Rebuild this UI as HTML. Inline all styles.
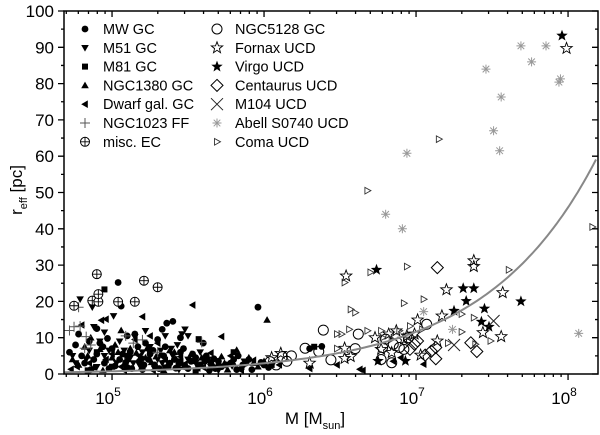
<!DOCTYPE html>
<html><head><meta charset="utf-8"><style>
html,body{margin:0;padding:0;background:#fff;}
svg{display:block;font-family:"Liberation Sans",Arial,sans-serif;}
</style></head><body>
<svg id="chart" width="600" height="435" viewBox="0 0 600 435" xmlns="http://www.w3.org/2000/svg">
<g id="marks"></g>
<g id="axes"></g>
<g id="legend"></g>
</svg>
<script>
const mwGC=[[5.04,25.2],[5.96,18.4],[5.06,18.7],[5.33,12.3],[5.36,14],[5.40,14.5],[5.15,11],[5.10,10.5],[4.85,9],[4.92,8.5],[5.00,7],[5.12,6],[5.25,5.5],[5.35,7.5],[5.45,6],[5.55,4.5],[5.62,5],[5.70,3.5],[5.80,4],[5.88,3],[6.00,2.5],[4.80,5],[4.88,4],[4.95,3],[5.05,4],[5.18,3.5],[5.28,2.5],[5.38,3],[5.48,2],[5.58,2.5],[5.68,1.5],[5.75,2.5],[6.30,7],[6.38,7.6],[5.22,8.5],[5.30,9.5],[4.78,11],[4.90,12.5],[5.45,10],[5.60,8.5],[5.83,5],[4.98,1.5],[5.10,1.8],[5.20,1.2],[5.42,1.6],[5.52,3.5],[5.65,3.2],[5.92,1.2],[4.72,6],[4.76,8],[4.82,3],[4.86,1.2],[4.90,5.5],[4.94,7.5],[4.97,9.8],[5.02,2.2],[5.07,5.5],[5.09,3.2],[5.13,1.5],[5.17,7.5],[5.21,2.5],[5.24,4],[5.27,6.5],[5.31,1.5],[5.34,5],[5.37,2],[5.41,4],[5.44,2.8],[5.47,7],[5.50,1.5],[5.53,5.5],[5.57,2],[5.61,3.5],[5.64,1],[5.67,4.2],[5.72,2],[5.78,3],[5.82,1.2],[5.86,2.5],[5.90,4],[5.98,3.2],[6.03,1.8]];
const m51GC=[[4.79,20.6],[4.87,18.4],[5.01,16],[5.22,11.9],[5.48,12.3],[5.46,11],[5.50,10.5],[4.88,13],[4.95,11.5],[5.05,9],[5.15,10.2],[5.25,7.5],[5.32,6.5],[5.40,5],[5.12,4.5],[4.85,6.5],[4.95,5],[5.03,3],[5.18,2.5],[5.30,4],[5.55,3],[5.65,2],[4.76,3],[4.90,2],[5.35,10.5],[5.43,8],[4.74,5],[4.83,4],[4.92,9],[4.98,6.5],[5.08,6.5],[5.14,3],[5.20,6],[5.28,1.5],[5.33,3],[5.39,7],[5.44,1.2],[5.50,4],[5.58,6],[5.63,4],[5.70,1],[5.79,2.2],[5.87,3.5]];
const m81GC=[[4.95,23.3],[5.57,9.6],[5.25,6.4],[6.33,7.5],[6.05,2.5],[5.10,5],[4.90,6],[5.45,3.5],[5.70,2],[5.35,1.8],[4.84,1],[5.00,2],[5.19,4.2],[5.55,1],[5.80,6]];
const n1380GC=[[6.02,14.9],[5.82,6.6],[5.93,3],[4.82,7.5],[4.92,6.8],[5.02,8],[5.12,7],[5.22,4.5],[5.32,5.5],[5.42,4.2],[5.52,5.5],[5.62,3.8],[5.72,4.8],[5.85,2],[4.78,2.5],[4.88,1.8],[5.00,4.5],[5.08,2.8],[5.16,5.8],[5.26,3.2],[5.36,2.2],[5.46,3],[5.56,1.5],[5.66,2.8],[5.76,1.2],[5.96,2],[4.86,10],[5.06,12],[5.38,6.5],[4.74,4],[4.84,5],[4.94,1],[5.04,6],[5.10,4],[5.19,1.5],[5.23,7],[5.29,4.8],[5.34,1],[5.41,6],[5.49,2.2],[5.53,3.5],[5.59,4.5],[5.69,1.8],[5.74,3],[5.80,2.8],[5.90,4.5],[6.00,3.5]];
const dwarfGC=[[5.53,19],[5.20,15.8],[5.72,10.3],[4.96,15.1],[4.93,14.8],[5.25,10.5],[4.73,1.3],[4.80,13.5],[5.15,9.5],[5.30,8.5],[6.30,1.5],[6.48,2.5],[6.65,1],[6.90,4.5],[7.05,2.7],[5.93,3.8],[5.00,5.5],[5.45,4.8],[5.60,1.8],[5.08,1],[6.10,2.5],[6.85,3.5],[6.63,1.3],[4.77,2],[4.85,3],[4.96,4],[5.06,2],[5.18,5],[5.27,1],[5.35,3.8],[5.48,2.8],[5.65,5.8],[5.78,5],[5.85,1]];
const n1023FF=[[4.78,18.4],[4.75,13],[4.79,13.2],[4.83,10.3],[5.09,10.5],[5.59,8.7],[5.20,9.4],[4.82,7.1],[4.72,12],[4.86,8],[5.14,8.5],[5.30,6]];
const miscEC=[[4.90,27.5],[5.21,25.7],[5.30,23.9],[4.75,18.8],[4.87,20.2],[4.91,19.9],[4.91,22],[5.04,19.9],[5.15,19.9]];
const n5128GC=[[6.39,12.1],[6.27,7.1],[6.36,6.2],[6.44,3.9],[6.60,7],[6.62,11],[6.12,4.8],[6.04,3.4],[6.18,5],[6.78,7.3],[6.85,8.2],[6.89,7.3],[6.84,3.1],[7.07,13.7],[6.77,4],[6.80,9.6],[6.95,10],[6.92,6.8],[6.08,2.5],[6.15,3.5]];
const fornaxUCD=[[6.54,27],[7.38,31.2],[7.38,29.6],[7.20,23.2],[7.57,22.4],[7.17,16],[7.56,10.3],[7.44,11.4],[7.01,14.9],[7.03,5.2],[7.14,9.1],[6.11,5.7],[6.53,7.1],[6.53,4.3],[6.57,4.8],[6.73,10],[6.87,11.9],[6.92,9.6],[6.77,6.8],[6.84,5.9],[6.82,11],[6.94,10.5],[6.99,11],[7.99,89.7],[6.05,4.5],[6.30,3]];
const virgoUCD=[[6.74,28.7],[7.31,23.6],[7.38,23.6],[7.33,20.1],[7.25,17.4],[7.45,18],[7.43,14.4],[7.48,13],[7.69,20],[6.93,3.6],[6.75,3.6],[7.96,93.2]];
const centaurusUCD=[[7.14,29.3],[7.36,8.6],[7.40,6.2],[7.13,4.2],[7.10,6.3],[7.13,7.3],[7.01,9.1],[6.99,8.2],[6.96,6.8],[7.06,5.2]];
const m104UCD=[[7.51,14.6],[7.25,8]];
const abellUCD=[[7.69,90.4],[7.855,90.4],[7.76,86],[7.46,84],[7.95,81.3],[7.94,80.4],[7.56,76.3],[7.51,67],[7.55,61.5],[6.94,60.8],[6.91,40],[6.80,44],[7.05,17.2],[7.24,12.3],[8.07,11.2]];
const comaUCD=[[6.94,29.6],[7.05,20.6],[6.92,19.5],[7.61,28.7],[7.21,8.5],[7.30,11.6],[7.30,16.5],[7.38,15.5],[6.57,17.8],[6.60,16.9],[6.53,25.2],[6.70,28],[6.48,11],[6.51,11],[6.48,7],[6.56,12.3],[6.68,11.9],[6.77,11.9],[6.78,10],[6.89,11.9],[6.84,9.6],[6.96,13.2],[7.04,12.3],[7.39,8.2],[7.49,9.1],[6.68,50.5],[8.16,40.5],[7.15,64.7]];
const xTickExps=[5,6,7,8];
const yTicks=[0,10,20,30,40,50,60,70,80,90,100];

const L=64,R=598,T=11,B=374;
const X0=4.684,X1=8.197;
const sx=v=>L+(v-X0)/(X1-X0)*(R-L);
const sy=v=>B-v/100*(B-T);
const NS="http://www.w3.org/2000/svg";
function mk(tag,attrs,parent){const e=document.createElementNS(NS,tag);for(const k in attrs)e.setAttribute(k,attrs[k]);parent.appendChild(e);return e;}
function star(cx,cy,r){let p=[];for(let i=0;i<10;i++){const a=-Math.PI/2+i*Math.PI/5;const rr=i%2?r*0.42:r;p.push((cx+rr*Math.cos(a)).toFixed(1)+","+(cy+rr*Math.sin(a)).toFixed(1));}return p.join(" ");}
function marker(type,cx,cy,g){
  let e;
  if(type==='circle')e=mk('circle',{cx,cy,r:3.4,fill:'#000'},g);
  else if(type==='dtri')e=mk('polygon',{points:`${cx-3.8},${cy-2.8} ${cx+3.8},${cy-2.8} ${cx},${cy+3.8}`,fill:'#000'},g);
  else if(type==='square')e=mk('rect',{x:cx-3,y:cy-3,width:6,height:6,fill:'#000'},g);
  else if(type==='utri')e=mk('polygon',{points:`${cx-3.8},${cy+2.8} ${cx+3.8},${cy+2.8} ${cx},${cy-3.8}`,fill:'#000'},g);
  else if(type==='ltri')e=mk('polygon',{points:`${cx+2.8},${cy-3.8} ${cx+2.8},${cy+3.8} ${cx-3.8},${cy}`,fill:'#000'},g);
  else if(type==='plus')e=mk('path',{d:`M${cx-5},${cy}H${cx+5}M${cx},${cy-5}V${cy+5}`,stroke:'#555','stroke-width':1,fill:'none'},g);
  else if(type==='oplus'){e=mk('g',{},g);mk('circle',{cx,cy,r:4.5,fill:'#fff',stroke:'#000','stroke-width':1},e);mk('path',{d:`M${cx-4.5},${cy}H${cx+4.5}M${cx},${cy-4.5}V${cy+4.5}`,stroke:'#000','stroke-width':0.9},e);}
  else if(type==='ocircle')e=mk('circle',{cx,cy,r:5,fill:'none',stroke:'#000','stroke-width':1},g);
  else if(type==='ostar')e=mk('polygon',{points:star(cx,cy,6),fill:'none',stroke:'#000','stroke-width':0.9},g);
  else if(type==='fstar')e=mk('polygon',{points:star(cx,cy,6),fill:'#000'},g);
  else if(type==='diamond')e=mk('polygon',{points:`${cx},${cy-6} ${cx+6},${cy} ${cx},${cy+6} ${cx-6},${cy}`,fill:'none',stroke:'#000','stroke-width':1},g);
  else if(type==='cross')e=mk('path',{d:`M${cx-6},${cy-6}L${cx+6},${cy+6}M${cx-6},${cy+6}L${cx+6},${cy-6}`,stroke:'#222','stroke-width':1,fill:'none'},g);
  else if(type==='aster')e=mk('path',{d:`M${cx-4.5},${cy}H${cx+4.5}M${cx},${cy-4.5}V${cy+4.5}M${cx-3.3},${cy-3.3}L${cx+3.3},${cy+3.3}M${cx-3.3},${cy+3.3}L${cx+3.3},${cy-3.3}`,stroke:'#999','stroke-width':1,fill:'none'},g);
  else if(type==='rtri')e=mk('polygon',{points:`${cx-2.5},${cy-3.3} ${cx-2.5},${cy+3.3} ${cx+3.5},${cy}`,fill:'none',stroke:'#333','stroke-width':0.9},g);
  return e;
}
const series=[
 ['mw-gc','circle','MW GC',mwGC],['m51-gc','dtri','M51 GC',m51GC],['m81-gc','square','M81 GC',m81GC],
 ['ngc1380-gc','utri','NGC1380 GC',n1380GC],['dwarf-gal-gc','ltri','Dwarf gal. GC',dwarfGC],['ngc1023-ff','plus','NGC1023 FF',n1023FF],
 ['misc-ec','oplus','misc. EC',miscEC],['ngc5128-gc','ocircle','NGC5128 GC',n5128GC],['fornax-ucd','ostar','Fornax UCD',fornaxUCD],
 ['virgo-ucd','fstar','Virgo UCD',virgoUCD],['centaurus-ucd','diamond','Centaurus UCD',centaurusUCD],['m104-ucd','cross','M104 UCD',m104UCD],
 ['abell-s0740-ucd','aster','Abell S0740 UCD',abellUCD],['coma-ucd','rtri','Coma UCD',comaUCD]];
const marks=document.getElementById('marks');
const clip=mk('clipPath',{id:'pc'},document.getElementById('chart'));
mk('rect',{x:L,y:T,width:R-L,height:B-T},clip);
marks.setAttribute('clip-path','url(#pc)');
series.forEach(s=>{
  const g=mk('g',{},marks);
  
  
  s[3].forEach(d=>{
    const m=marker(s[1],sx(d[0]),sy(d[1]),g);
    
    
  });
});
let pts=[];for(let lm=X0;lm<=X1+0.001;lm+=0.02){pts.push(sx(lm).toFixed(1)+','+sy(2.95*Math.pow(10,(lm-6)*0.596)).toFixed(1));}
const fit=mk('polyline',{points:pts.join(' '),fill:'none',stroke:'#888','stroke-width':2},marks);



const ax=document.getElementById('axes');
const frame=mk('rect',{x:L,y:T,width:R-L,height:B-T,fill:'none',stroke:'#000','stroke-width':1.5},ax);


let d='';
yTicks.forEach(v=>{const y=sy(v);d+=`M${L-6},${y}H${L}M${R-6},${y}H${R}`;
 const t=mk('text',{x:L-10,y:y+6,'text-anchor':'end','font-size':17},ax);t.textContent=v;
 
 });
for(let v=5;v<100;v+=10){const y=sy(v);d+=`M${L-3},${y}H${L}M${R-3},${y}H${R}`;}
for(let e=4;e<=8;e++){for(let k=1;k<10;k++){const lm=e+Math.log10(k);if(lm<X0||lm>X1)continue;const x=sx(lm);const len=k===1?6:3;d+=`M${x},${B}V${B+len}M${x},${T}V${T+len}`;}}
mk('path',{d,stroke:'#000','stroke-width':1.3,fill:'none'},ax);
xTickExps.forEach(e=>{const t=mk('text',{x:sx(e)-4,y:B+30,'text-anchor':'middle','font-size':17},ax);
 t.innerHTML=`10<tspan dy="-8" font-size="12">${e}</tspan>`;
 
 });
const xt=mk('text',{x:315,y:424,'text-anchor':'middle','font-size':17},ax);
xt.innerHTML='M [M<tspan dy="5" font-size="11">sun</tspan><tspan dy="-5">]</tspan>';


const yt=mk('text',{x:0,y:0,'text-anchor':'middle','font-size':17,transform:'translate(22,190) rotate(-90)'},ax);
yt.innerHTML='r<tspan dy="5" font-size="11">eff</tspan><tspan dy="-5"> [pc]</tspan>';



const lg=document.getElementById('legend');
series.forEach((s,i)=>{
  const col=i<7?0:1,row=i%7;
  const mx=col?217:85,y=29+row*18.8;
  const g=mk('g',{},lg);
  
  
  marker(s[1],mx,y,g);
  const t=mk('text',{x:mx+18,y:y+5,'font-size':14.5},g);t.textContent=s[2];
});
</script>
</body></html>
